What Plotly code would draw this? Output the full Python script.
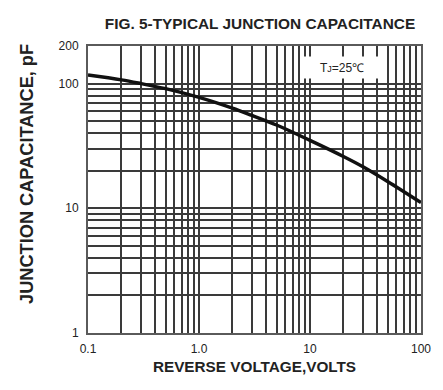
import plotly.graph_objects as go

# Data (log-log)
voltage = [0.1, 0.2, 0.3, 0.5, 1.0, 2.0, 3.0, 5.0, 10.0, 20.0, 30.0, 50.0, 100.0]
capacitance = [117, 107, 100, 91, 77.5, 63.5, 55.5, 46.5, 35, 26, 21.5, 16.4, 11.1]

x_tickvals = [0.1, 1, 10, 100]
x_ticktext = ["0.1", "1.0", "10", "100"]
y_tickvals = [1, 10, 100, 200]
y_ticktext = ["1", "10", "100", "200"]

x_minor = [0.2, 0.3, 0.4, 0.5, 0.6, 0.7, 0.8, 0.9,
           2, 3, 4, 5, 6, 7, 8, 9,
           20, 30, 40, 50, 60, 70, 80, 90]
y_minor = [2, 3, 4, 5, 6, 7, 8, 9,
           20, 30, 40, 50, 60, 70, 80, 90]

FONT = "Liberation Sans, Arial, sans-serif"
GRID = "#3a3a3a"
TXT = "#222222"

fig = go.Figure()
fig.add_trace(go.Scatter(
    x=voltage, y=capacitance, mode="lines",
    line=dict(color="#111111", width=3.4, shape="spline", smoothing=1.0),
    showlegend=False, hoverinfo="skip",
))

fig.update_layout(
    width=443, height=390,
    margin=dict(l=88, r=17, t=46, b=57),
    paper_bgcolor="white", plot_bgcolor="white",
    font=dict(family=FONT, color=TXT, size=12),
    title=dict(
        text="<b>FIG. 5-TYPICAL JUNCTION CAPACITANCE</b>",
        font=dict(family=FONT, size=15.4, color=TXT),
        x=260 / 443, xanchor="center", xref="container",
        y=1 - 23.5 / 390, yanchor="middle", yref="container",
    ),
    xaxis=dict(
        type="log", range=[-1, 2],
        tickvals=x_tickvals, ticktext=x_ticktext,
        showgrid=True, gridcolor=GRID, gridwidth=1.5,
        minor=dict(tickvals=x_minor, showgrid=True, gridcolor=GRID, gridwidth=1.5, ticks=""),
        showline=True, mirror=True, linecolor="#5a5a5a", linewidth=2,
        ticks="outside", ticklen=4, tickcolor="rgba(0,0,0,0)",
        tickfont=dict(family=FONT, size=12, color=TXT),
        title=dict(text="<b>REVERSE VOLTAGE,VOLTS</b>",
                   font=dict(family=FONT, size=15.3, color=TXT), standoff=6),
        zeroline=False,
    ),
    yaxis=dict(
        type="log", range=[0, 2.30103],
        tickvals=y_tickvals, ticktext=y_ticktext,
        showgrid=True, gridcolor=GRID, gridwidth=1.5,
        minor=dict(tickvals=y_minor, showgrid=True, gridcolor=GRID, gridwidth=1.5, ticks=""),
        showline=True, mirror=True, linecolor="#5a5a5a", linewidth=2,
        ticks="outside", ticklen=5, tickcolor="rgba(0,0,0,0)",
        tickfont=dict(family=FONT, size=12, color=TXT),
        zeroline=False,
    ),
    annotations=[
        dict(
            text="<b>JUNCTION CAPACITANCE, pF</b>",
            xref="paper", yref="paper",
            x=(26 - 88) / 338, y=(333 - 174) / 287,
            xanchor="center", yanchor="middle", textangle=-90,
            showarrow=False,
            font=dict(family=FONT, size=18.2, color=TXT),
        ),
        dict(
            text='T<span style="font-size:9px">J</span>=25℃',
            xref="paper", yref="paper",
            x=(346 - 88) / 338, y=(333 - 67.5) / 287,
            xanchor="center", yanchor="middle",
            showarrow=False, bgcolor="white",
            width=78, height=21, borderpad=0,
            font=dict(family=FONT, size=12, color=TXT),
        ),
    ],
)

fig.write_html("out.html", config={"displayModeBar": False},
               post_script="document.body.style.margin='0px';")
